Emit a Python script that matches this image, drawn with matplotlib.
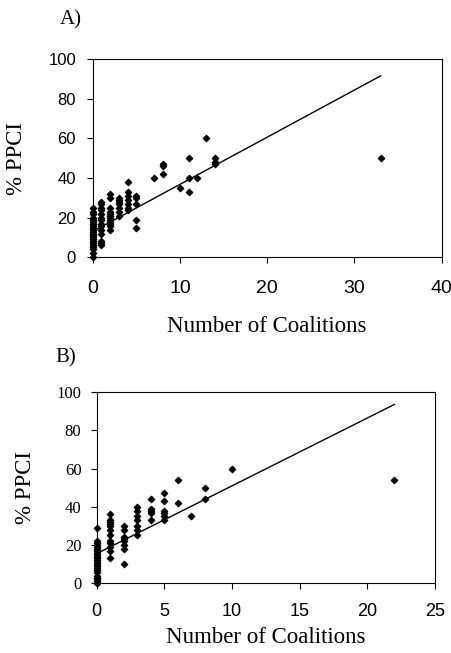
import matplotlib
matplotlib.use("Agg")
import matplotlib.pyplot as plt
import numpy as np

# painel A
a_x = [0]*22 + [1]*14 + [2]*12 + [3]*7 + [4]*7 + [5]*5 + [7, 8, 8, 8, 10, 11, 11, 11, 12, 13, 14, 14, 14, 33]
a_y = [0, 2, 4, 5, 6, 7, 8, 9, 10, 11, 12, 13, 14, 15, 16, 17, 18, 19, 20, 22, 23, 25,
       6, 7, 8, 12, 14, 16, 17, 19, 20, 22, 24, 25, 27, 28,
       14, 16, 17, 18, 19, 20, 21, 22, 23, 25, 30, 32,
       21, 23, 25, 27, 28, 29, 30,
       24, 25, 27, 29, 31, 33, 38,
       15, 19, 27, 30, 31,
       40, 42, 46, 47, 35, 33, 40, 50, 40, 60, 47, 48, 50, 50]
a_linha_x = [0, 33]
a_linha_y = [13, 91.5]

# painel B
b_x = [0]*24 + [1]*12 + [2]*8 + [3]*7 + [4]*5 + [5]*6 + [6, 6, 7, 8, 8, 10, 22]
b_y = [0, 1, 2, 4, 6, 7, 8, 9, 10, 11, 12, 13, 14, 15, 16, 17, 18, 19, 20, 21, 22, 0, 3, 29,
       13, 17, 19, 21, 22, 25, 28, 30, 31, 32, 33, 36,
       10, 18, 20, 22, 23, 24, 28, 30,
       25, 28, 30, 33, 35, 38, 40,
       33, 37, 38, 39, 44,
       33, 35, 37, 38, 43, 47,
       42, 54, 35, 44, 50, 60, 54]
b_linha_x = [0, 22]
b_linha_y = [15.5, 93.5]

serif = "Liberation Serif"
sans = "Liberation Sans"

fig = plt.figure(figsize=(4.52, 6.53), dpi=100)

def painel(rect, xs, ys, lx, ly, xmax, xstep, letra, letra_pos, fonte_y, estilo):
    ax = fig.add_axes(rect)
    ax.plot(lx, ly, color="black", lw=1.0, zorder=2)
    ax.scatter(xs, ys, marker="D", s=10, color="black", zorder=3, clip_on=False)
    ax.set_xlim(0, xmax)
    ax.set_ylim(0, 100)
    ax.set_xticks(np.arange(0, xmax + 1, xstep))
    ax.set_yticks(np.arange(0, 101, 20))
    ax.tick_params(direction="out", length=4, width=0.8)
    ax.tick_params(axis="x", pad=estilo["xpad"])
    ax.tick_params(axis="y", pad=estilo["ypad"])
    for t in ax.get_xticklabels():
        t.set_fontfamily(sans)
        t.set_fontsize(estilo["xfs"])
    for t in ax.get_yticklabels():
        t.set_fontfamily(fonte_y)
        t.set_fontsize(12)
    for s in ax.spines.values():
        s.set_linewidth(0.8)
    ax.set_xlabel("Number of Coalitions", fontfamily=serif, fontsize=16.5, labelpad=estilo["xlp"])
    ax.set_ylabel("% PPCI", fontfamily=serif, fontsize=16.5, labelpad=estilo["ylp"])
    fig.text(letra_pos[0], letra_pos[1], letra, fontfamily=serif, fontsize=15)
    return ax

painel([92.7/452, 1 - 257.3/653, 349/452, 198.3/653], a_x, a_y, a_linha_x, a_linha_y,
       40, 10, "A)", (60/452, 1 - 24/653), sans,
       {"xpad": 12, "ypad": 8, "xfs": 14, "xlp": 14, "ylp": 15})
painel([96.7/452, 1 - 583.3/653, 338.3/452, 191.3/653], b_x, b_y, b_linha_x, b_linha_y,
       25, 5, "B)", (55/452, 1 - 362/653), serif,
       {"xpad": 10.5, "ypad": 7, "xfs": 13, "xlp": 5, "ylp": 15})

fig.savefig("out.png", dpi=100)
